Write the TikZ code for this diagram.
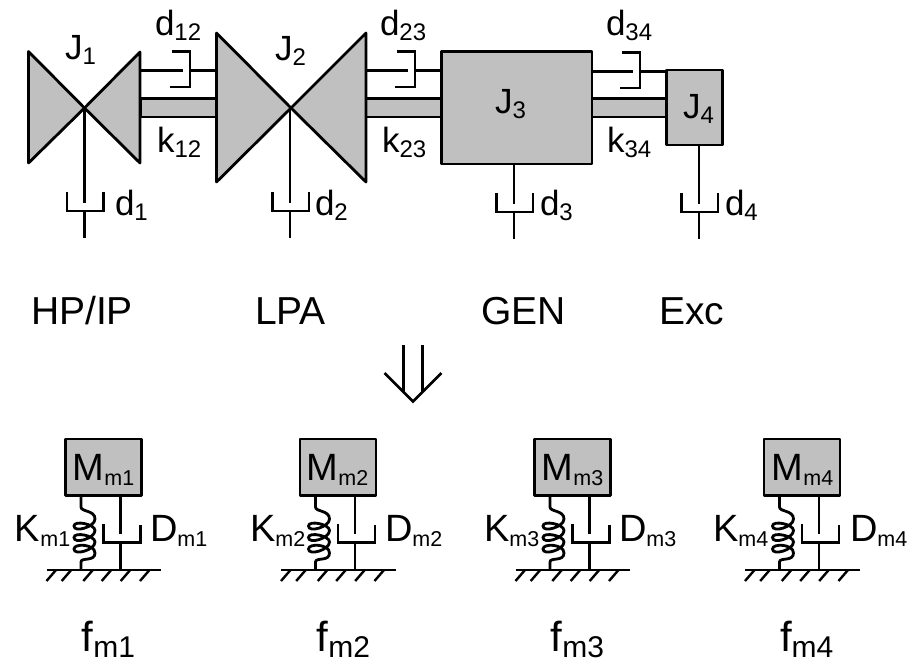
\documentclass[tikz,border=0pt]{standalone}
\usepackage{fontspec}
\setmainfont{Liberation Sans}
\definecolor{partgray}{HTML}{C0C0C0}
\newcommand\tops[2]{{\fontsize{35}{35}\selectfont #1\raisebox{-5pt}{\fontsize{24}{24}\selectfont #2}}}
\newcommand\mids[2]{{\fontsize{38}{38}\selectfont #1\raisebox{-5pt}{\fontsize{21.5}{21.5}\selectfont #2}}}
\newcommand\bigs[2]{{\fontsize{42}{42}\selectfont #1\raisebox{-6pt}{\fontsize{30}{30}\selectfont #2}}}
\tikzset{
  x=1pt,y=-1pt,
  part/.style={draw=black,fill=partgray,line width=2.8pt,line join=round},
  wire/.style={draw=black,line width=2.8pt},
  lbl/.style={anchor=base west,inner sep=0pt,outer sep=0pt},
  rowlbl/.style={lbl,font=\fontsize{39}{39}\selectfont},
}
% horizontal damper: x0 start, y, bracket x, x1 end
\newcommand\hdamp[4]{%
  \draw[wire] (#1,#2) -- (#3-7,#2);
  \draw[wire] (#3-18,#2-19) -- (#3,#2-19) -- (#3,#2+16.5) -- (#3-20,#2+16.5);
  \draw[wire] (#3,#2) -- (#4,#2);}
% vertical damper: x, top, rim y, bottom y
\newcommand\vdamp[4]{%
  \draw[wire] (#1,#2) -- (#1,#3+11);
  \draw[wire] (#1-17.5,#3) -- (#1-17.5,#3+19) -- (#1+19,#3+19) -- (#1+19,#3);
  \draw[wire] (#1,#3+19) -- (#1,#4);}
% lower column: name, left of box, K x, D x, M x, f x
\newcommand\massunit[6]{%
  \begin{scope}[xshift=#2pt]
    \draw[part] (0,439) rectangle (76,495.5);
    \draw[wire] (15.5,495.5) -- (15.5,507)
      .. controls (15.5,512) and (29.5,510) .. (29.5,519)
      .. controls (29.5,527) and (8.5,533) .. (8.5,526)
      .. controls (8.5,520) and (29.5,524) .. (29.5,530.5)
      .. controls (29.5,538.5) and (8.5,544.5) .. (8.5,537.5)
      .. controls (8.5,531.5) and (29.5,535.5) .. (29.5,542)
      .. controls (29.5,550) and (8.5,556) .. (8.5,549)
      .. controls (8.5,543) and (29.5,544) .. (29.5,553)
      .. controls (29.5,562) and (15.5,557) .. (15.5,562) -- (15.5,570);
    \draw[wire] (55,495.5) -- (55,534);
    \draw[wire] (38,523.5) -- (38,542.5) -- (75,542.5) -- (75,524.5);
    \draw[wire] (55,542.5) -- (55,570);
    \draw[wire] (-18.8,570) -- (95.5,570);
    \foreach \hx in {-9.5,5.7,27.3,45.7,64.7,84}
      \draw[wire,line width=2.4pt] (\hx,570) -- (\hx-9.5,581);
  \end{scope}
  \node[lbl] (K#1) at (#3,541.7) {\mids{K}{m#1}};
  \node[lbl] (D#1) at (#4,541.7) {\mids{D}{m#1}};
  \node[lbl] (M#1) at (#5,480) {\mids{M}{m#1}};
  \node[lbl] (F#1) at (#6,651) {\bigs{f}{m#1}};}
\begin{document}
\begin{tikzpicture}
\useasboundingbox (0,0) rectangle (919,662);
% shafts
\draw[part] (141,98.5) rectangle (216.5,117);
\draw[part] (366,98.5) rectangle (441.5,117);
\draw[part] (592,98.5) rectangle (666.5,117);
% inertias
\draw[part] (28.5,51.5) -- (84.5,108) -- (28.5,163) -- cycle;
\draw[part] (140,52) -- (84.5,108) -- (140,163) -- cycle;
\draw[part] (216.5,33) -- (291,108) -- (216.5,182) -- cycle;
\draw[part] (366,33) -- (291,108) -- (366,182) -- cycle;
\draw[part] (441.5,51.5) rectangle (592,164);
\draw[part] (666.5,70) rectangle (722.5,145);
% coupling dampers
\hdamp{141}{70.5}{190}{216.5}
\hdamp{366}{70.5}{415}{441.5}
\hdamp{592}{71.5}{640}{666.5}
% ground dampers
\vdamp{84.5}{108}{192}{238}
\vdamp{290}{108}{192}{238}
\vdamp{514}{164}{193}{239}
\vdamp{699}{145}{193}{239}
% labels
\node[lbl] (J1) at (65,59) {\tops{J}{1}};
\node[lbl] (J2) at (275,60) {\tops{J}{2}};
\node[lbl] (J3) at (495,113) {\tops{J}{3}};
\node[lbl] (J4) at (683,118) {\tops{J}{4}};
\node[lbl] (d12) at (155,35) {\tops{d}{12}};
\node[lbl] (d23) at (380,35) {\tops{d}{23}};
\node[lbl] (d34) at (606,35) {\tops{d}{34}};
\node[lbl] (k12) at (157,152) {\tops{k}{12}};
\node[lbl] (k23) at (382,152) {\tops{k}{23}};
\node[lbl] (k34) at (607,152) {\tops{k}{34}};
\node[lbl] (d1) at (115,215) {\tops{d}{1}};
\node[lbl] (d2) at (315,215) {\tops{d}{2}};
\node[lbl] (d3) at (540,215) {\tops{d}{3}};
\node[lbl] (d4) at (725,215) {\tops{d}{4}};
\node[rowlbl] (hp) at (31,324) {HP/IP};
\node[rowlbl] (lpa) at (255,324) {LPA};
\node[rowlbl] (gen) at (481,324) {GEN};
\node[rowlbl] (exc) at (659,324) {Exc};
% down arrow
\draw[wire] (403.5,345) -- (403.5,392);
\draw[wire] (422.5,345) -- (422.5,392);
\draw[wire] (384.5,373) -- (413,401.5) -- (441.5,373);
% lower row
\massunit{1}{65.5}{15}{150}{72.7}{81.7}
\massunit{2}{300}{250}{385}{306.7}{316.7}
\massunit{3}{534.5}{484}{619}{541.7}{550.7}
\massunit{4}{764}{713}{850}{771.7}{780}
\end{tikzpicture}
\end{document}
